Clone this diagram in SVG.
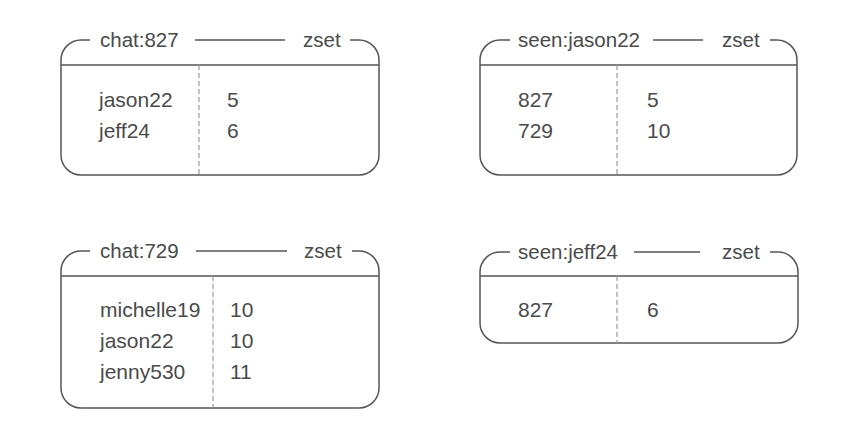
<svg xmlns="http://www.w3.org/2000/svg" width="855" height="422" viewBox="0 0 855 422">
<style>
.frame{fill:none;stroke:#555;stroke-width:1.5}
.hdr{fill:none;stroke:#555;stroke-width:1.5}
.div{fill:none;stroke:#999;stroke-width:1.2;stroke-dasharray:5 3}
text{font-family:"Liberation Sans",Arial,sans-serif;font-size:21px;fill:#4a4a4a}
text.t{font-size:20.5px}
</style>
<rect width="855" height="422" fill="#fff"/>
<g id="chat827">
<path class="frame" d="M90 40 H81 A20 20 0 0 0 61 60 V155 A20 20 0 0 0 81 175 H359 A20 20 0 0 0 379 155 V60 A20 20 0 0 0 359 40 H350 M195 40 H285"/>
<path class="hdr" d="M61 65 H379"/>
<path class="div" d="M199 65 V175"/>
<text class="t" x="100" y="47">chat:827</text>
<text class="t" x="303" y="47">zset</text>
<text x="99" y="107">jason22</text>
<text x="99" y="138">jeff24</text>
<text x="227" y="107">5</text>
<text x="227" y="138">6</text>
</g>
<g id="seenjason22">
<path class="frame" d="M510 40 H500 A20 20 0 0 0 480 60 V155 A20 20 0 0 0 500 175 H777 A20 20 0 0 0 797 155 V60 A20 20 0 0 0 777 40 H770 M653 40 H703"/>
<path class="hdr" d="M480 65 H797"/>
<path class="div" d="M617 65 V175"/>
<text class="t" x="518" y="47">seen:jason22</text>
<text class="t" x="722" y="47">zset</text>
<text x="518" y="107">827</text>
<text x="518" y="138">729</text>
<text x="647" y="107">5</text>
<text x="647" y="138">10</text>
</g>
<g id="chat729">
<path class="frame" d="M90 251 H81 A20 20 0 0 0 61 271 V388 A20 20 0 0 0 81 408 H359 A20 20 0 0 0 379 388 V271 A20 20 0 0 0 359 251 H352 M196 251 H287"/>
<path class="hdr" d="M61 276 H379"/>
<path class="div" d="M213 276 V408"/>
<text class="t" x="100" y="258">chat:729</text>
<text class="t" x="304" y="258">zset</text>
<text x="100" y="317">michelle19</text>
<text x="100" y="348">jason22</text>
<text x="100" y="379">jenny530</text>
<text x="230" y="317">10</text>
<text x="230" y="348">10</text>
<text x="230" y="379">11</text>
</g>
<g id="seenjeff24">
<path class="frame" d="M510 252 H500 A20 20 0 0 0 480 272 V323 A20 20 0 0 0 500 343 H778 A20 20 0 0 0 798 323 V272 A20 20 0 0 0 778 252 H770 M634 252 H700"/>
<path class="hdr" d="M480 276 H798"/>
<path class="div" d="M617 276 V343"/>
<text class="t" x="518" y="259">seen:jeff24</text>
<text class="t" x="722" y="259">zset</text>
<text x="518" y="317">827</text>
<text x="647" y="317">6</text>
</g>
<g id="connectors"></g>
</svg>
